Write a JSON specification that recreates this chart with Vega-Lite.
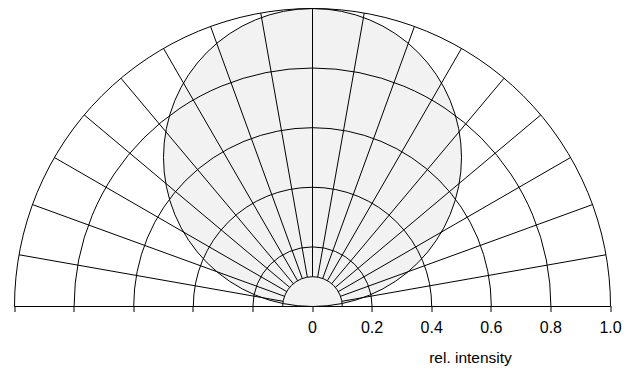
{
  "$schema": "https://vega.github.io/schema/vega-lite/v6.json",
  "autosize": "none",
  "width": 596,
  "height": 298,
  "padding": {"left": 14, "top": 8, "right": 27, "bottom": 63},
  "config": {"view": {"stroke": null}},
  "layer": [
    {
      "data": {"values": [{"x": 0, "y": 0.5, "r": 0.5, "t1": 0, "t2": 6.28319}]},
      "mark": {"type": "arc", "fill": "#f2f2f2", "stroke": "black", "strokeWidth": 1},
      "encoding": {
        "x": {"field": "x", "type": "quantitative", "scale": {"domain": [-1, 1], "range": [0.5, 596.5], "nice": false, "zero": false},
          "axis": {
            "values": [-1, -0.8, -0.6, -0.4, -0.2, 0, 0.2, 0.4, 0.6, 0.8, 1],
            "labelExpr": "datum.value < -0.001 ? '' : (abs(datum.value) < 0.001 ? '0' : format(datum.value, '.1f'))",
            "grid": false, "domain": false, "tickColor": "black", "tickSize": 6, "tickWidth": 1,
            "translate": 0,
            "labelFont": "Liberation Sans", "labelFontSize": 16, "labelColor": "black", "labelPadding": 8,
            "labelFlush": false, "labelOverlap": false, "labelBound": false,
            "title": "rel. intensity", "titleFont": "Liberation Sans", "titleFontSize": 15.5, "titleFontWeight": "normal",
            "titleColor": "black", "titleX": 456.5, "titleY": 57, "titleBaseline": "alphabetic", "titleAlign": "center"
          }},
        "y": {"field": "y", "type": "quantitative", "scale": {"domain": [0, 1], "range": [298.5, 0.5], "nice": false, "zero": false}, "axis": null},
        "theta": {"field": "t1", "type": "quantitative", "scale": null},
        "theta2": {"field": "t2"},
        "radius": {"field": "r", "type": "quantitative", "scale": {"type": "linear", "domain": [0, 1], "range": [0, 298], "zero": true, "nice": false}}
      }
    },
    {
      "data": {"values": [
        {"x": 0, "y": 0, "r": 0.1, "t1": -1.5708, "t2": 1.5708},
        {"x": 0, "y": 0, "r": 0.2, "t1": -1.5708, "t2": 1.5708},
        {"x": 0, "y": 0, "r": 0.4, "t1": -1.5708, "t2": 1.5708},
        {"x": 0, "y": 0, "r": 0.6, "t1": -1.5708, "t2": 1.5708},
        {"x": 0, "y": 0, "r": 0.8, "t1": -1.5708, "t2": 1.5708},
        {"x": 0, "y": 0, "r": 1.0, "t1": -1.5708, "t2": 1.5708}
      ]},
      "mark": {"type": "arc", "filled": false, "fillOpacity": 0, "stroke": "black", "strokeWidth": 1},
      "encoding": {
        "x": {"field": "x", "type": "quantitative"},
        "y": {"field": "y", "type": "quantitative"},
        "theta": {"field": "t1", "type": "quantitative", "scale": null},
        "theta2": {"field": "t2"},
        "radius": {"field": "r", "type": "quantitative"}
      }
    },
    {
      "data": {"values": [
        {"x": 0.09848, "y": 0.01736, "x2": 0.98481, "y2": 0.17365},
        {"x": 0.09397, "y": 0.03420, "x2": 0.93969, "y2": 0.34202},
        {"x": 0.08660, "y": 0.05, "x2": 0.86603, "y2": 0.5},
        {"x": 0.07660, "y": 0.06428, "x2": 0.76604, "y2": 0.64279},
        {"x": 0.06428, "y": 0.07660, "x2": 0.64279, "y2": 0.76604},
        {"x": 0.05, "y": 0.08660, "x2": 0.5, "y2": 0.86603},
        {"x": 0.03420, "y": 0.09397, "x2": 0.34202, "y2": 0.93969},
        {"x": 0.01736, "y": 0.09848, "x2": 0.17365, "y2": 0.98481},
        {"x": 0, "y": 0.1, "x2": 0, "y2": 1},
        {"x": -0.01736, "y": 0.09848, "x2": -0.17365, "y2": 0.98481},
        {"x": -0.03420, "y": 0.09397, "x2": -0.34202, "y2": 0.93969},
        {"x": -0.05, "y": 0.08660, "x2": -0.5, "y2": 0.86603},
        {"x": -0.06428, "y": 0.07660, "x2": -0.64279, "y2": 0.76604},
        {"x": -0.07660, "y": 0.06428, "x2": -0.76604, "y2": 0.64279},
        {"x": -0.08660, "y": 0.05, "x2": -0.86603, "y2": 0.5},
        {"x": -0.09397, "y": 0.03420, "x2": -0.93969, "y2": 0.34202},
        {"x": -0.09848, "y": 0.01736, "x2": -0.98481, "y2": 0.17365}
      ]},
      "mark": {"type": "rule", "color": "black", "strokeWidth": 1},
      "encoding": {
        "x": {"field": "x", "type": "quantitative"},
        "y": {"field": "y", "type": "quantitative"},
        "x2": {"field": "x2"},
        "y2": {"field": "y2"}
      }
    }
  ]
}
